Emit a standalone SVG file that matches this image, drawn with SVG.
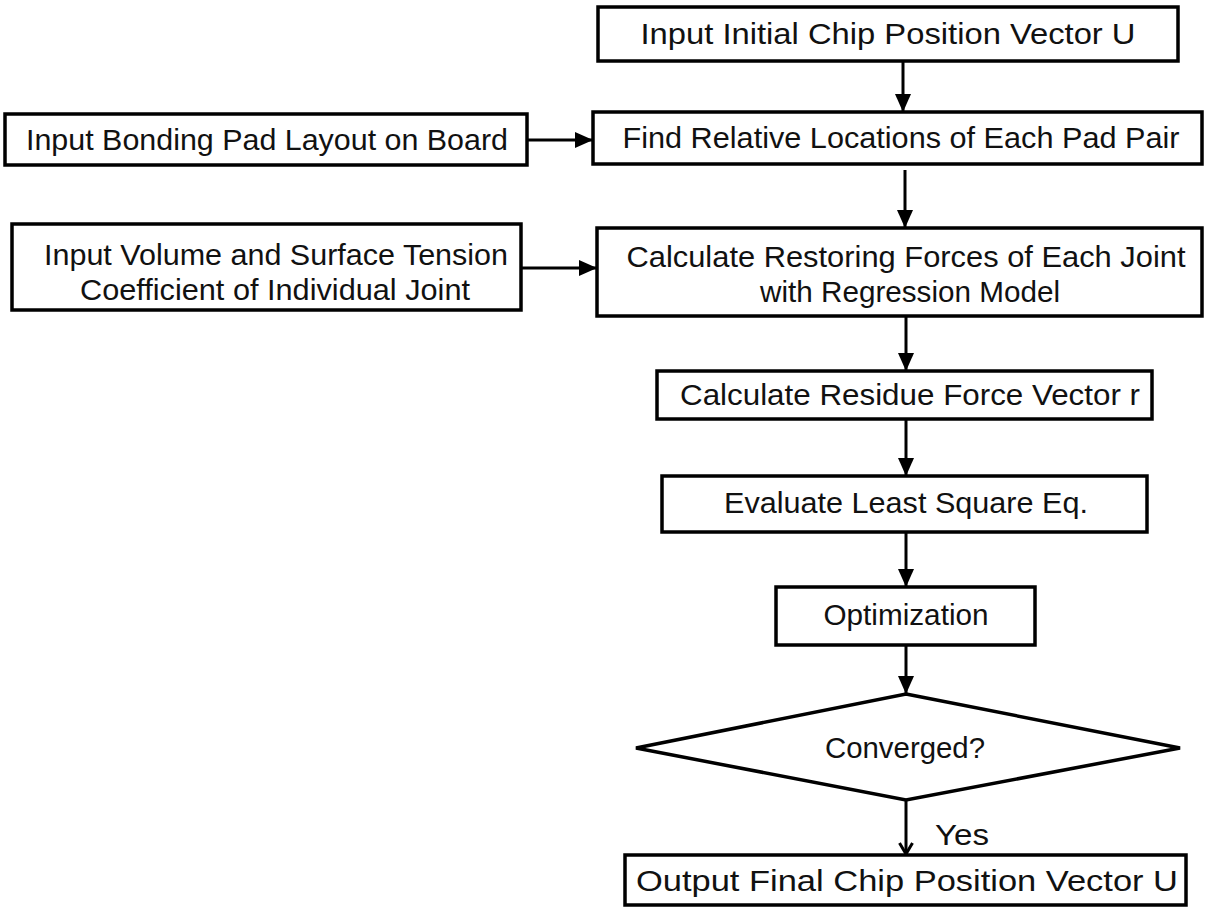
<svg xmlns="http://www.w3.org/2000/svg" width="1206" height="907" viewBox="0 0 1206 907">
<style>
.box{fill:#fff;stroke:#000;stroke-width:3.5}
.t{font-family:"Liberation Sans",Arial,sans-serif;font-size:29px;fill:#111;text-anchor:middle}
.c{stroke:#000;stroke-width:3;fill:none}
</style>
<defs>
<marker id="ah" markerUnits="userSpaceOnUse" markerWidth="18" markerHeight="16" refX="17" refY="8" orient="auto">
<path d="M0,0 L18,8 L0,16 Z" fill="#000"/>
</marker>
<marker id="oh" markerUnits="userSpaceOnUse" markerWidth="14" markerHeight="16" refX="12" refY="8" orient="auto">
<path d="M1,1.5 L12,8 L1,14.5" fill="none" stroke="#000" stroke-width="3"/>
</marker>
</defs>
<rect width="1206" height="907" fill="#fff"/>
<g id="connectors">
<line class="c" x1="903" y1="61" x2="903" y2="111" marker-end="url(#ah)"/>
<line class="c" x1="527" y1="140" x2="592" y2="140" marker-end="url(#ah)"/>
<line class="c" x1="905" y1="170" x2="905" y2="227" marker-end="url(#ah)"/>
<line class="c" x1="521" y1="268" x2="596" y2="268" marker-end="url(#ah)"/>
<line class="c" x1="906" y1="316" x2="906" y2="370" marker-end="url(#ah)"/>
<line class="c" x1="906" y1="419" x2="906" y2="475" marker-end="url(#ah)"/>
<line class="c" x1="906" y1="532" x2="906" y2="586" marker-end="url(#ah)"/>
<line class="c" x1="906" y1="645" x2="906" y2="693" marker-end="url(#ah)"/>
<line class="c" x1="906" y1="800" x2="906" y2="854" marker-end="url(#oh)"/>
<text class="t" x="962" y="845" textLength="54" lengthAdjust="spacingAndGlyphs">Yes</text>
</g>
<g id="n1"><rect class="box" x="598" y="7" width="580" height="54"/><text class="t" x="888" y="44" textLength="495" lengthAdjust="spacingAndGlyphs">Input Initial Chip Position Vector U</text></g>
<g id="n2"><rect class="box" x="593" y="112" width="609" height="52"/><text class="t" x="901" y="148" textLength="557" lengthAdjust="spacingAndGlyphs">Find Relative Locations of Each Pad Pair</text></g>
<g id="nA"><rect class="box" x="5" y="114" width="522" height="51"/><text class="t" x="267" y="150" textLength="482" lengthAdjust="spacingAndGlyphs">Input Bonding Pad Layout on Board</text></g>
<g id="nB"><rect class="box" x="12" y="224" width="509" height="86"/><text class="t" x="276" y="265" textLength="464" lengthAdjust="spacingAndGlyphs">Input Volume and Surface Tension</text><text class="t" x="275" y="300" textLength="390" lengthAdjust="spacingAndGlyphs">Coefficient of Individual Joint</text></g>
<g id="n3"><rect class="box" x="597" y="228" width="605" height="88"/><text class="t" x="906" y="267" textLength="559" lengthAdjust="spacingAndGlyphs">Calculate Restoring Forces of Each Joint</text><text class="t" x="910" y="302" textLength="300" lengthAdjust="spacingAndGlyphs">with Regression Model</text></g>
<g id="n4"><rect class="box" x="657" y="371" width="495" height="48"/><text class="t" x="910" y="405" textLength="460" lengthAdjust="spacingAndGlyphs">Calculate Residue Force Vector r</text></g>
<g id="n5"><rect class="box" x="662" y="476" width="485" height="56"/><text class="t" x="906" y="513" textLength="364" lengthAdjust="spacingAndGlyphs">Evaluate Least Square Eq.</text></g>
<g id="n6"><rect class="box" x="776" y="587" width="259" height="58"/><text class="t" x="906" y="625" textLength="165" lengthAdjust="spacingAndGlyphs">Optimization</text></g>
<g id="n7"><polygon class="box" points="906,694 1180,748 906,800 636,748"/><text class="t" x="905" y="758" textLength="160" lengthAdjust="spacingAndGlyphs">Converged?</text></g>
<g id="n8"><rect class="box" x="625" y="855" width="561" height="50"/><text class="t" x="907" y="891" textLength="542" lengthAdjust="spacingAndGlyphs">Output Final Chip Position Vector U</text></g>
</svg>
